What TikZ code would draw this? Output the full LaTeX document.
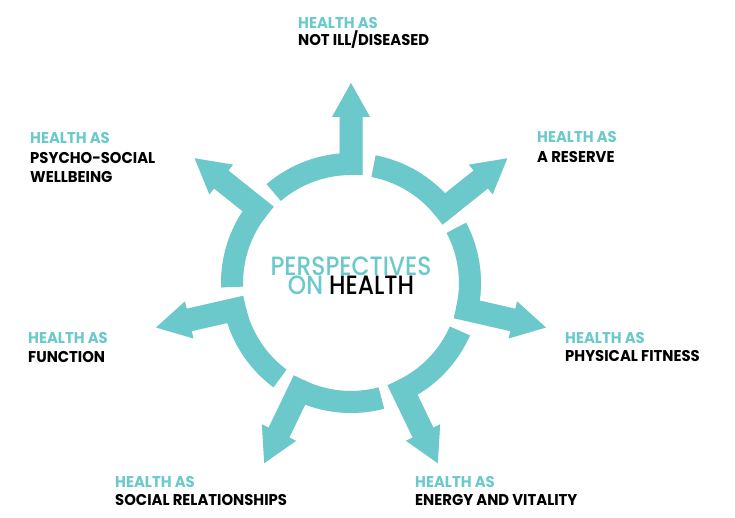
\documentclass[tikz,border=0pt]{standalone}
\usepackage{fontspec}
\setmainfont{Poppins}
\newfontfamily\labfont{Poppins}[FakeStretch=0.95]
\IfFontExistsTF{Poppins Medium}
  {\newfontfamily\cenfont{Poppins Medium}[FakeStretch=0.88]}
  {\newfontfamily\cenfont{Poppins}[FakeStretch=0.9]}
\usetikzlibrary{calc}
\definecolor{tealc}{HTML}{6CC9CB}
\begin{document}
\begin{tikzpicture}[x=1pt,y=1pt,
  lab/.style={anchor=base west, inner sep=0pt, font=\labfont\bfseries\fontsize{15.6}{18}\selectfont},
  labt/.style={lab, text=tealc},
  labk/.style={lab, text=black},
  cen/.style={anchor=base, inner sep=0pt, text height=17pt, text depth=0pt,
     font=\cenfont\fontsize{26.5}{30}\selectfont, text=tealc},
  seg/.style={fill=tealc},
  shad/.style={fill=black, opacity=0.05}]
\useasboundingbox (0,0) rectangle (735,518);
\coordinate (c) at (351,235);
\def\ri{108}
\def\ro{130}
\newcommand\ringpiece[2]{%
  \pgfmathsetmacro\B{90-51.4286*#1}%
  \pgfmathsetmacro\A{\B+40.5}%
  \fill[#2] ($(c)+(\A:\ro)$) arc[start angle=\A, end angle=\B, radius=\ro]
     -- ($(c)+(\B:\ri)$) arc[start angle=\B, end angle=\A, radius=\ri] -- cycle;
  \fill[#2, shift={(c)}, rotate=\B] (\ri,-11.5) -- (166,-11.5) -- (166,-19) -- (200,0)
     -- (166,19) -- (166,11.5) -- (\ri,11.5) -- cycle;
}
\foreach \k in {0,...,6}{
  \begin{scope}[shift={(-1.5,-2.5)}]\ringpiece{\k}{shad}\end{scope}
  \begin{scope}[shift={(-2.5,-3.5)}]\ringpiece{\k}{shad}\end{scope}
}
\foreach \k in {0,...,6}{\ringpiece{\k}{seg}}
% center text
\node[cen] (c1) at (351,242) {PERSPECTIVES};
\node[cen] (c2) at (351,223) {ON \textcolor{black}{HEALTH}};
% labels
\node[labt] (a1) at (298,489.7) {HEALTH AS};
\node[labk] (a2) at (298,472.3) {NOT ILL/DISEASED};
\node[labt] (b1) at (537,375.7) {HEALTH AS};
\node[labk] (b2) at (537,355.7) {A RESERVE};
\node[labt] (g1) at (30,374.7) {HEALTH AS};
\node[labk] (g2) at (30,354.7) {PSYCHO-SOCIAL};
\node[labk] (g3) at (30,335.7) {WELLBEING};
\node[labt] (d1) at (565,174.7) {HEALTH AS};
\node[labk] (d2) at (565,156.3) {PHYSICAL FITNESS};
\node[labt] (f1) at (28,174.7) {HEALTH AS};
\node[labk] (f2) at (28,155.7) {FUNCTION};
\node[labt] (s1) at (115,30.7) {HEALTH AS};
\node[labk] (s2) at (115,12) {SOCIAL RELATIONSHIPS};
\node[labt] (e1) at (415,30.7) {HEALTH AS};
\node[labk] (e2) at (415,12) {ENERGY AND VITALITY};
\end{tikzpicture}
\end{document}
